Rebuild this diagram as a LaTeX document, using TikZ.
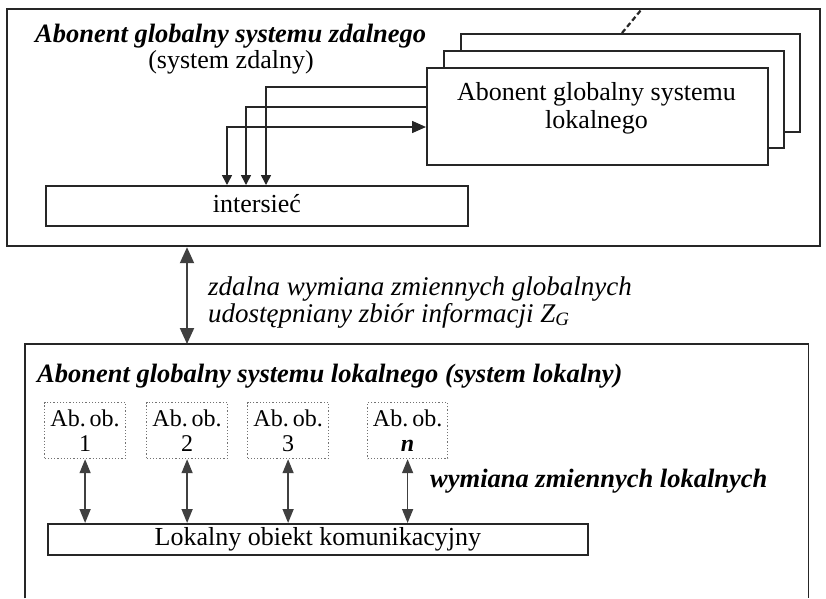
\documentclass[tikz,border=0pt]{standalone}
\usepackage{fontspec}
\setmainfont{Liberation Serif}
\usetikzlibrary{arrows.meta}
\begin{document}
\begin{tikzpicture}[x=1pt,y=-1pt,
  box/.style={draw=black!85, line width=1.8pt, inner sep=0pt, anchor=north west},
  abbox/.style={draw=black!55, dotted, line width=1.2pt, inner sep=0pt, anchor=north west,
    minimum width=81pt, minimum height=56pt, align=center, font=\fontsize{24}{25}\selectfont},
  conn/.style={draw=black!85, line width=1.5pt},
  tip/.style={-{Triangle[length=10pt,width=10pt]}},
  rm/.style={font=\fontsize{26}{28}\selectfont},
  boxtext/.style={text height=18pt, text depth=5pt},
  bi/.style={font=\fontsize{26.5}{28}\selectfont\bfseries\itshape},
  it/.style={font=\fontsize{27}{28}\selectfont\itshape},
]
\useasboundingbox (0,0) rectangle (826,598);
\fill[white] (0,0) rectangle (826,598);

% remote system
\node[box, line width=2.2pt, minimum width=813pt, minimum height=237pt] (remote) at (6,8) {};
\node[bi, anchor=base west, inner sep=0pt] (rtitle) at (35,42) {Abonent globalny systemu zdalnego};
\node[rm, anchor=base, inner sep=0pt] (rsub) at (231,68) {(system zdalny)};

% stacked subscriber boxes
\node[box, fill=white, minimum width=339pt, minimum height=98pt] (back) at (460,33) {};
\node[box, fill=white, minimum width=340pt, minimum height=97pt] (mid) at (443,50) {};
\node[box, fill=white, minimum width=341pt, minimum height=97pt] (front) at (426,67) {};
\node[rm, anchor=base, inner sep=0pt] (frontt1) at (596.5,100) {Abonent globalny systemu};
\node[rm, anchor=base, inner sep=0pt] (frontt2) at (596.5,128) {lokalnego};
\coordinate (dashend) at (641,10);
\draw[conn, line width=2.2pt, dash pattern=on 5pt off 3pt] ([xshift=162pt]back.north west) -- (dashend);

% internetwork
\node[box, rm, boxtext, minimum width=422pt, minimum height=40pt] (inter) at (45,185) {intersieć};

\draw[conn, {Triangle[length=10pt,width=10pt]}-{Triangle[length=14pt,width=12pt]}]
  ([xshift=182pt]inter.north west) |- ([yshift=-60pt]front.north west);
\draw[conn, tip] ([yshift=-40pt]front.north west) -| ([xshift=201pt]inter.north west);
\draw[conn, tip] ([yshift=-20pt]front.north west) -| ([xshift=221pt]inter.north west);

% local system
\node[inner sep=0pt, anchor=north west, minimum width=783pt, minimum height=254pt] (local) at (25,344) {};
\draw[line width=1.8pt, black!85] (local.south west) -- (local.north west) -- (local.north east) -- (local.south east);

\draw[conn, line width=2pt, black!75, {Triangle[length=16pt,width=14pt]}-{Triangle[length=16pt,width=14pt]}]
  ([xshift=181pt]remote.south west) -- ([xshift=162pt]local.north west);
\node[it, anchor=base west, inner sep=0pt] (g1) at (208,295) {zdalna wymiana zmiennych globalnych};
\node[it, anchor=base west, inner sep=0pt] (g2) at (208,322) {udostępniany zbiór informacji Z\textsubscript{G}};

\node[bi, anchor=base west, inner sep=0pt] (ltitle) at (37,382) {Abonent globalny systemu lokalnego (system lokalny)};

\node[abbox] (ab1) at (44,402) {Ab.\,ob.\\1};
\node[abbox] (ab2) at (146,402) {Ab.\,ob.\\2};
\node[abbox] (ab3) at (247,402) {Ab.\,ob.\\3};
\node[abbox, minimum width=80pt] (abn) at (367,402) {Ab.\,ob.\\\textbf{\textit{n}}};

\node[box, rm, boxtext, minimum width=540pt, minimum height=31pt] (lok) at (47,523) {Lokalny obiekt komunikacyjny};

\foreach \a in {ab1,ab2,ab3,abn}{
  \draw[conn, black!75, {Triangle[length=14pt,width=11pt]}-{Triangle[length=14pt,width=11pt]}] (\a.south) -- (\a.south |- lok.north);
}
\node[bi, anchor=base west, inner sep=0pt] (lw) at (430,487) {wymiana zmiennych lokalnych};
\end{tikzpicture}
\end{document}
